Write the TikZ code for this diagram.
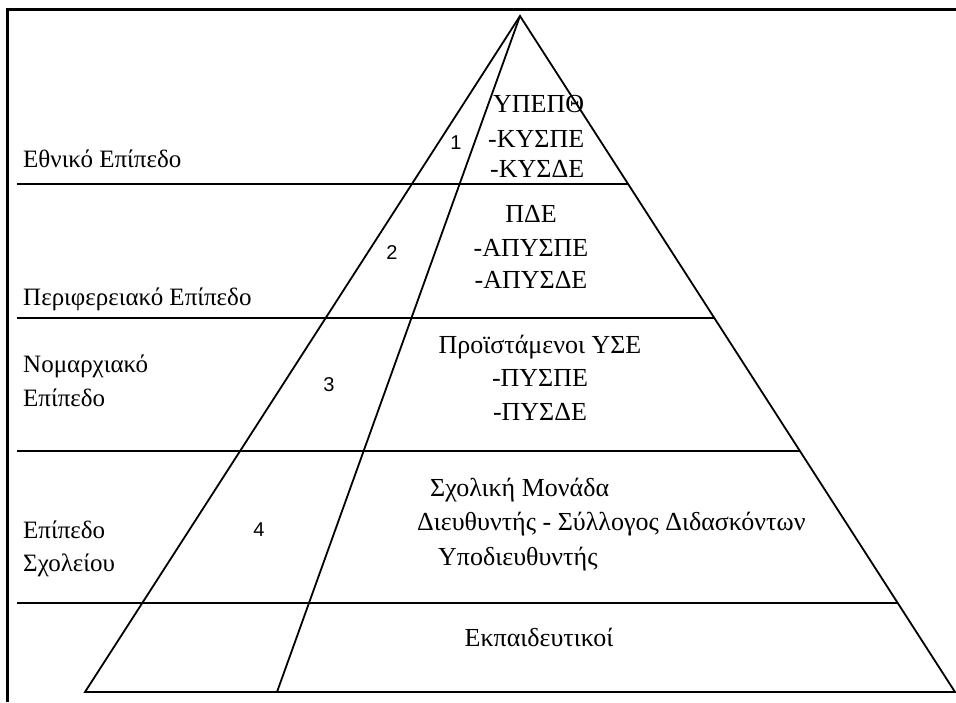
\documentclass[tikz,border=0pt]{standalone}
\usepackage{fontspec}
\setmainfont{Liberation Serif}
\setsansfont{Liberation Sans}
\usetikzlibrary{calc}
\tikzset{
  level/.style = {inner sep=0pt, anchor=base west, font=\fontsize{25}{30}\selectfont},
  entry/.style = {inner sep=0pt, anchor=base, font=\fontsize{26}{31}\selectfont},
  entryw/.style = {entry, anchor=base west},
  num/.style   = {inner sep=0pt, font=\sffamily\fontsize{20}{24}\selectfont},
  edge/.style  = {line width=1.8pt},
  frame/.style = {line width=3pt}
}

\begin{document}
\begin{tikzpicture}[x=1pt,y=-1pt]
  \useasboundingbox (0,0) rectangle (956,702);
  % outer frame (top and left only)
  \draw[frame] (7,702) -- (7,9) -- (956,9);

  % pyramid corners
  \coordinate (apex) at (520,16);
  \coordinate (bl)   at (85,692);
  \coordinate (bm)   at (277,692);
  \coordinate (br)   at (955,692);
  \draw[edge] (bl) -- (apex) -- (br) -- cycle;
  \draw[edge] (apex) -- (bm);

  % level separators, cut at the right side of the pyramid
  \foreach \yy in {184,318,451,603}
    \draw[edge] (17,\yy) -- ($(apex)!{(\yy-16)/676}!(br)$);

  % level names (left column)
  \node[level] (lnat)  at (23,167) {Εθνικό Επίπεδο};
  \node[level] (lreg)  at (23,305) {Περιφερειακό Επίπεδο};
  \node[level] (lnom)  at (23,372) {Νομαρχιακό};
  \node[level] (lnomb) at (23,406) {Επίπεδο};
  \node[level] (lsch)  at (23,538) {Επίπεδο};
  \node[level] (lschb) at (23,571) {Σχολείου};

  % level numbers
  \node[num] (n1) at (456,143) {1};
  \node[num] (n2) at (392,253) {2};
  \node[num] (n3) at (329,385) {3};
  \node[num] (n4) at (259,530) {4};

  % national level
  \node[entryw] (ypepth) at (493,112) {ΥΠΕΠΘ};
  \node[entryw] (kyspe)  at (488,147) {-ΚΥΣΠΕ};
  \node[entryw] (kysde)  at (490,177) {-ΚΥΣΔΕ};

  % regional level
  \node[entry] (pde)    at (531,222) {ΠΔΕ};
  \node[entry] (apyspe) at (531,256) {-ΑΠΥΣΠΕ};
  \node[entry] (apysde) at (531,288) {-ΑΠΥΣΔΕ};

  % prefecture level
  \node[entry] (proist) at (540,353) {Προϊστάμενοι ΥΣΕ};
  \node[entry] (pyspe)  at (540,386) {-ΠΥΣΠΕ};
  \node[entry] (pysde)  at (540,420) {-ΠΥΣΔΕ};

  % school level
  \node[entryw] (monada) at (430,496) {Σχολική Μονάδα};
  \node[entryw] (dieuth) at (417,530) {Διευθυντής - Σύλλογος Διδασκόντων};
  \node[entryw] (ypodi)  at (438,565) {Υποδιευθυντής};

  % teachers
  \node[entry] (ekp) at (539,646) {Εκπαιδευτικοί};
\end{tikzpicture}
\end{document}
